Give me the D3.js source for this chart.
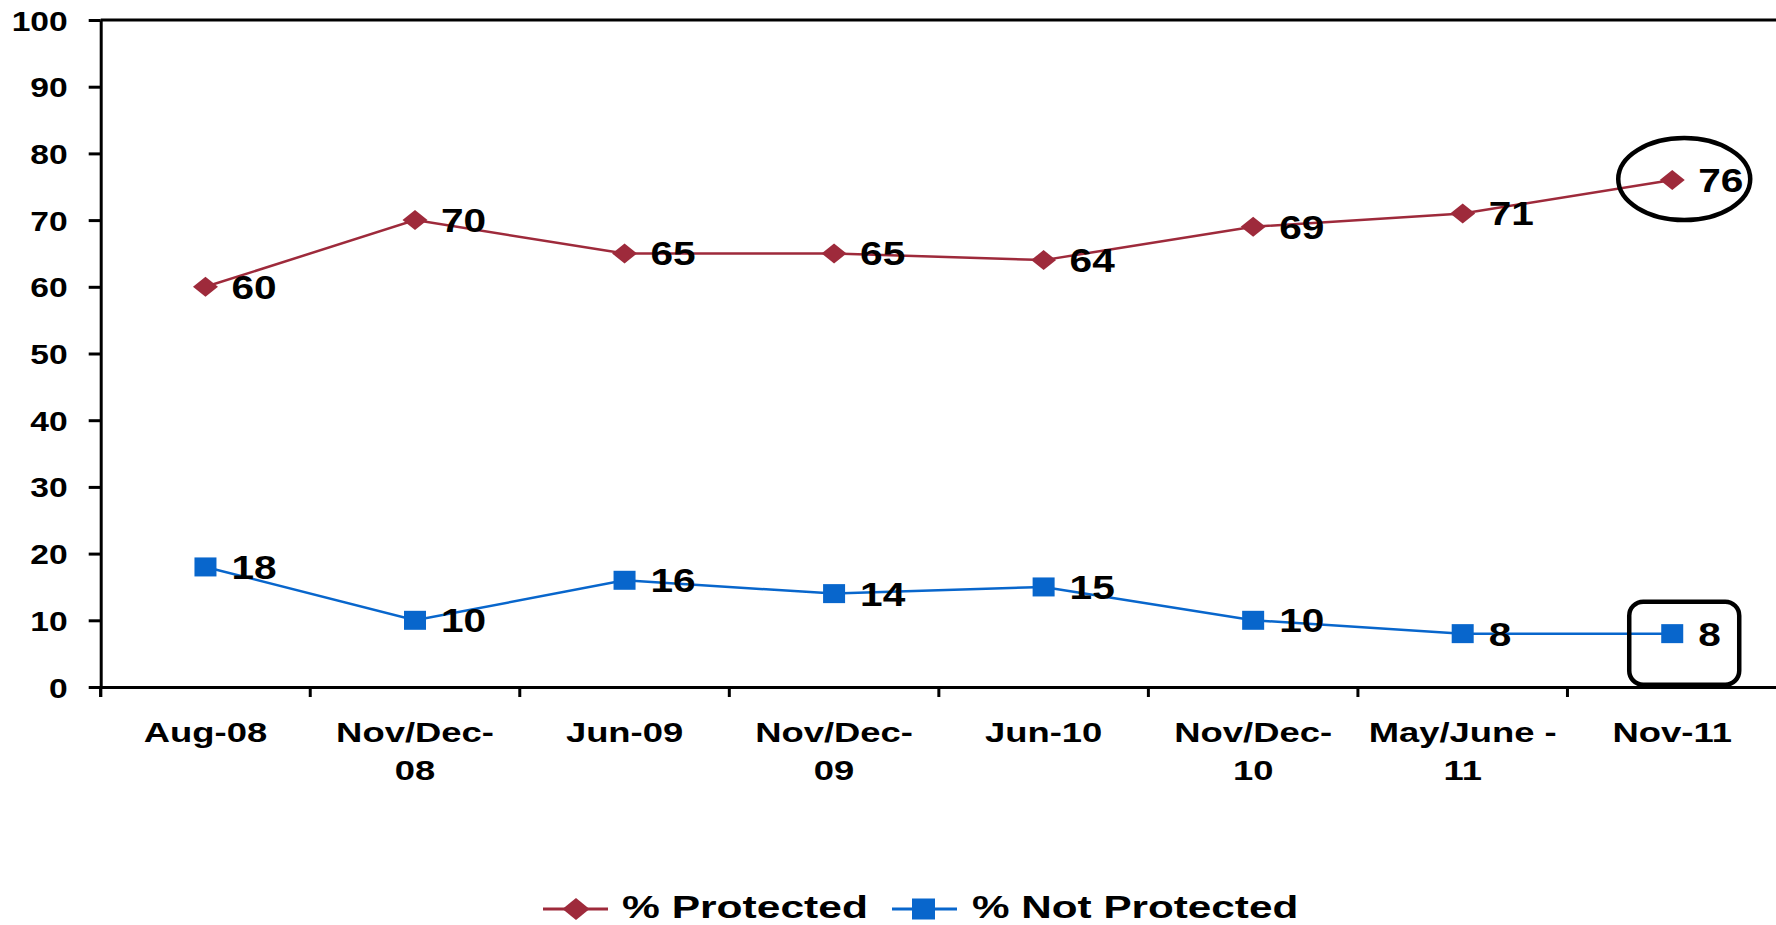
<!DOCTYPE html>
<html>
<head>
<script src="https://d3js.org/d3.v7.min.js"></script>
<title>% Protected vs % Not Protected</title>
<style>
body {margin:0; background:white;}
svg text {font-family: "Liberation Sans", Arial, sans-serif; font-weight: bold; fill: black;}
</style>
</head>
<body>
<svg width="1776" height="925"></svg>
<script>
// data
var categories = ["Aug-08", "Nov/Dec-\n08", "Jun-09", "Nov/Dec-\n09", "Jun-10", "Nov/Dec-\n10", "May/June -\n11", "Nov-11"];
var protectedVals = [60, 70, 65, 65, 64, 69, 71, 76];
var notProtectedVals = [18, 10, 16, 14, 15, 10, 8, 8];
var yTicks = [0, 10, 20, 30, 40, 50, 60, 70, 80, 90, 100];
var seriesNames = ["% Protected", "% Not Protected"];

var red = "#9E2A3B";
var blue = "#0866CC";

var svg = d3.select("svg");
var plotLeft = 100.7, plotRight = 1777, plotTop = 20, plotBottom = 687;

var x = d3.scaleBand().domain(categories).range([plotLeft, plotRight]);
var y = d3.scaleLinear().domain([0, 100]).range([plotBottom, plotTop]);
var cx = function(i) { return x(categories[i]) + x.bandwidth() / 2; };

// text in the original is stretched sideways
function stext(g, px, py, str, size, sx, anchor) {
  return g.append("text")
    .attr("transform", "translate(" + px + "," + py + ") scale(" + sx + ",1)")
    .attr("text-anchor", anchor || "start")
    .style("font-size", size + "px")
    .text(str);
}

// top border
svg.append("line")
  .attr("x1", plotLeft).attr("x2", plotRight)
  .attr("y1", y(100)).attr("y2", y(100))
  .attr("stroke", "black").attr("stroke-width", 3);

// y axis
var yg = svg.append("g")
  .attr("transform", "translate(" + plotLeft + ",0)")
  .call(d3.axisLeft(y).tickValues(yTicks).tickSize(12).tickSizeOuter(0));
yg.select(".domain").attr("stroke-width", 3);
yg.selectAll(".tick line").attr("stroke-width", 3);
yg.selectAll(".tick text").remove();
yg.selectAll(".tick").each(function(d) {
  stext(d3.select(this), -33, 10, d, 28, 1.2, "end");
});
// y axis line continues below the x axis
svg.append("line")
  .attr("x1", plotLeft).attr("x2", plotLeft)
  .attr("y1", plotBottom).attr("y2", plotBottom + 10)
  .attr("stroke", "black").attr("stroke-width", 3);

// x axis
var xg = svg.append("g")
  .attr("transform", "translate(0," + plotBottom + ")")
  .call(d3.axisBottom(x).tickSize(0).tickSizeOuter(0).tickFormat(""));
xg.select(".domain").attr("stroke-width", 3);
xg.selectAll(".tick").each(function(d) {
  var lines = d.split("\n");
  var g = d3.select(this);
  lines.forEach(function(l, k) {
    stext(g, 0, 55 + k * 38, l, 28, 1.3, "middle");
  });
});
xg.selectAll(".sep")
  .data(categories)
  .enter()
  .append("line")
  .attr("x1", function(d) { return x(d); })
  .attr("x2", function(d) { return x(d); })
  .attr("y1", 0).attr("y2", 10)
  .attr("stroke", "black").attr("stroke-width", 3);

var line = d3.line()
  .x(function(d, i) { return cx(i); })
  .y(function(d) { return y(d); });

function diamond(w, h) {
  return "M0," + (-h) + "L" + w + ",0L0," + h + "L" + (-w) + ",0Z";
}

// % Protected
svg.append("path").datum(protectedVals)
  .attr("d", line).attr("fill", "none")
  .attr("stroke", red).attr("stroke-width", 2.5);
svg.selectAll(".pmark")
  .data(protectedVals)
  .enter()
  .append("path")
  .attr("transform", function(d, i) { return "translate(" + cx(i) + "," + y(d) + ")"; })
  .attr("d", diamond(12.5, 10))
  .attr("fill", red);

// % Not Protected
svg.append("path").datum(notProtectedVals)
  .attr("d", line).attr("fill", "none")
  .attr("stroke", blue).attr("stroke-width", 2.5);
svg.selectAll(".nmark")
  .data(notProtectedVals)
  .enter()
  .append("rect")
  .attr("x", function(d, i) { return cx(i) - 11; })
  .attr("y", function(d) { return y(d) - 9.5; })
  .attr("width", 22).attr("height", 19)
  .attr("fill", blue);

// value labels
var labels = svg.append("g");
protectedVals.forEach(function(d, i) {
  stext(labels, cx(i) + 26, y(d) + 12, d, 33, 1.23);
});
notProtectedVals.forEach(function(d, i) {
  stext(labels, cx(i) + 26, y(d) + 12, d, 33, 1.23);
});

// highlight marks on the last survey
var last = categories.length - 1;
svg.append("ellipse")
  .attr("cx", cx(last) + 12).attr("cy", y(protectedVals[last]) - 1)
  .attr("rx", 66).attr("ry", 41)
  .attr("fill", "none").attr("stroke", "black").attr("stroke-width", 4.5);
svg.append("rect")
  .attr("x", cx(last) - 43).attr("y", y(notProtectedVals[last]) - 32)
  .attr("width", 110).attr("height", 83).attr("rx", 14)
  .attr("fill", "none").attr("stroke", "black").attr("stroke-width", 4.5);

// legend
var lg = svg.append("g");
var ly = 909;
lg.append("line").attr("x1", 543).attr("x2", 608).attr("y1", ly).attr("y2", ly)
  .attr("stroke", red).attr("stroke-width", 3);
lg.append("path").attr("transform", "translate(576," + ly + ")")
  .attr("d", diamond(13.5, 11)).attr("fill", red);
stext(lg, 622, ly + 9, seriesNames[0], 32, 1.33);

lg.append("line").attr("x1", 892).attr("x2", 957).attr("y1", ly).attr("y2", ly)
  .attr("stroke", blue).attr("stroke-width", 3);
lg.append("rect").attr("x", 912).attr("y", ly - 10.5).attr("width", 23).attr("height", 21)
  .attr("fill", blue);
stext(lg, 972, ly + 9, seriesNames[1], 32, 1.32);
</script>
</body>
</html>
